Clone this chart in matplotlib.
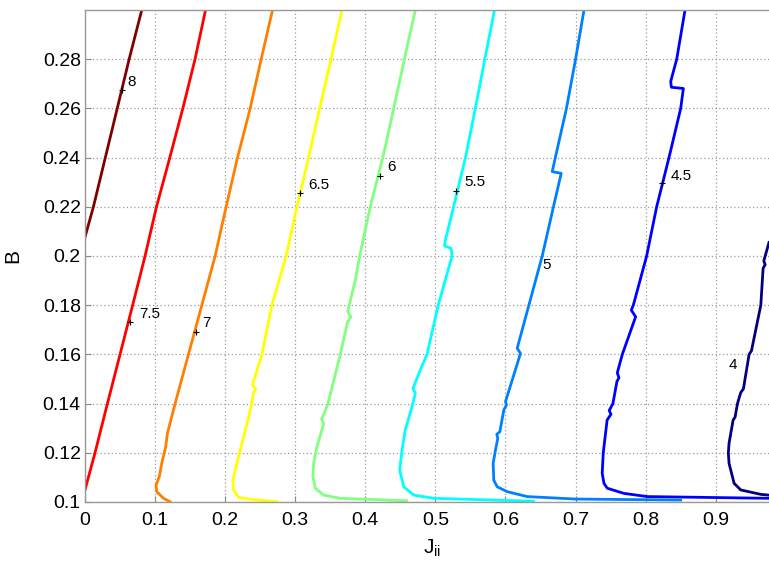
import matplotlib
matplotlib.use("Agg")
import matplotlib.pyplot as plt

plt.rcParams['font.family'] = ['Liberation Sans', 'DejaVu Sans']
plt.rcParams['mathtext.fontset'] = 'custom'
plt.rcParams['mathtext.rm'] = 'Liberation Sans'
plt.rcParams['mathtext.it'] = 'Liberation Sans:italic'

# ---- data: contour levels (traced points, x = J_ii, y = B) ----
levels = [4.0, 4.5, 5.0, 5.5, 6.0, 6.5, 7.0, 7.5, 8.0]

x_40 = [0.976, 0.9643, 0.9357, 0.9262, 0.919, 0.918, 0.919, 0.9248, 0.9276, 0.931,
        0.9357, 0.9395, 0.9476, 0.951, 0.9643, 0.9676, 0.9705, 0.9686, 0.976]
y_40 = [0.1028, 0.1031, 0.1049, 0.1076, 0.1157, 0.12, 0.1239, 0.1333, 0.1345, 0.14,
        0.1445, 0.146, 0.16, 0.1615, 0.18, 0.195, 0.1965, 0.198, 0.2055]

x_45 = [0.976, 0.8024, 0.769, 0.7452, 0.7405, 0.738, 0.7395, 0.745, 0.7505, 0.748,
        0.7533, 0.759, 0.7619, 0.7595, 0.7667, 0.7857, 0.7795, 0.7824, 0.8014, 0.8157,
        0.8333, 0.85, 0.8538, 0.8367, 0.8357, 0.8443, 0.8562]
y_45 = [0.1015, 0.1022, 0.1035, 0.1056, 0.1076, 0.1117, 0.12, 0.1333, 0.1357, 0.1372,
        0.14, 0.149, 0.1505, 0.1525, 0.16, 0.1753, 0.178, 0.18, 0.20, 0.22,
        0.24, 0.26, 0.2681, 0.2686, 0.2709, 0.28, 0.30]

x_50 = [0.85, 0.70, 0.631, 0.6024, 0.5881, 0.5833, 0.5824, 0.5857, 0.589, 0.5876,
        0.592, 0.5976, 0.6014, 0.600, 0.6214, 0.6167, 0.6524, 0.669, 0.6795, 0.6667,
        0.6714, 0.687, 0.700, 0.712]
y_50 = [0.1008, 0.1012, 0.1022, 0.1042, 0.1062, 0.1089, 0.1157, 0.1211, 0.1259, 0.1275,
        0.1286, 0.1374, 0.1394, 0.1408, 0.1604, 0.1625, 0.20, 0.2207, 0.2336, 0.2343,
        0.2404, 0.26, 0.28, 0.30]

x_55 = [0.64, 0.4976, 0.469, 0.4548, 0.449, 0.4524, 0.457, 0.4667, 0.4714, 0.468,
        0.4786, 0.488, 0.504, 0.5238, 0.5224, 0.5129, 0.5143, 0.526, 0.5429, 0.557,
        0.5705, 0.5843]
y_55 = [0.1003, 0.1015, 0.1028, 0.1062, 0.113, 0.1211, 0.1293, 0.1387, 0.1442, 0.1462,
        0.1537, 0.16, 0.18, 0.20, 0.2031, 0.2041, 0.2065, 0.22, 0.24, 0.26,
        0.28, 0.30]

x_60 = [0.459, 0.3643, 0.3405, 0.3286, 0.3252, 0.3262, 0.331, 0.338, 0.3405, 0.3376,
        0.3414, 0.3467, 0.3643, 0.3748, 0.3795, 0.3748, 0.3857, 0.392, 0.407, 0.425,
        0.4405, 0.4557, 0.4714]
y_60 = [0.1005, 0.1015, 0.1028, 0.1056, 0.1103, 0.1157, 0.1225, 0.1293, 0.1318, 0.1339,
        0.136, 0.14, 0.16, 0.1733, 0.1753, 0.1774, 0.1902, 0.20, 0.22, 0.24,
        0.26, 0.28, 0.30]

x_65 = [0.2747, 0.2357, 0.219, 0.2119, 0.211, 0.2167, 0.2205, 0.2295, 0.238, 0.2405,
        0.2438, 0.239, 0.2405, 0.2524, 0.2667, 0.287, 0.3024, 0.319, 0.3348, 0.351,
        0.3667]
y_65 = [0.1001, 0.1011, 0.1019, 0.1049, 0.1089, 0.1157, 0.12, 0.13, 0.14, 0.1445,
        0.1458, 0.1476, 0.149, 0.16, 0.18, 0.20, 0.22, 0.24, 0.26, 0.28,
        0.30]

x_70 = [0.1214, 0.112, 0.1024, 0.1014, 0.106, 0.1095, 0.1152, 0.1176, 0.1286, 0.1476,
        0.1667, 0.1857, 0.2014, 0.2176, 0.2357, 0.2514, 0.2676]
y_70 = [0.1001, 0.1015, 0.1042, 0.1069, 0.1103, 0.1157, 0.1225, 0.1279, 0.14, 0.16,
        0.18, 0.20, 0.22, 0.24, 0.26, 0.28, 0.30]

x_75 = [0.0, 0.0143, 0.032, 0.050, 0.068, 0.0857, 0.102, 0.121, 0.1396, 0.157, 0.172]
y_75 = [0.1049, 0.12, 0.14, 0.16, 0.18, 0.20, 0.22, 0.24, 0.26, 0.28, 0.30]

x_80 = [0.0, 0.012, 0.029, 0.046, 0.063, 0.081]
y_80 = [0.2077, 0.22, 0.24, 0.26, 0.28, 0.30]

# contour label anchors (marker point) and label text positions
label_texts = ['4', '4.5', '5', '5.5', '6', '6.5', '7', '7.5', '8']
label_mark_x = [None, 0.8238, None, 0.530, 0.4205, 0.307, 0.158, 0.0643, 0.0524]
label_mark_y = [None, 0.2296, None, 0.2266, 0.2327, 0.2255, 0.169, 0.1733, 0.2675]
label_text_x = [0.9248, 0.850, 0.6586, 0.557, 0.4367, 0.334, 0.1729, 0.0929, 0.0667]
label_text_y = [0.1557, 0.2325, 0.1963, 0.2302, 0.2363, 0.2289, 0.1727, 0.1763, 0.2709]

xticks = [0, 0.1, 0.2, 0.3, 0.4, 0.5, 0.6, 0.7, 0.8, 0.9]
xtick_labels = ['0', '0.1', '0.2', '0.3', '0.4', '0.5', '0.6', '0.7', '0.8', '0.9']
yticks = [0.10, 0.12, 0.14, 0.16, 0.18, 0.20, 0.22, 0.24, 0.26, 0.28]
ytick_labels = ['0.1', '0.12', '0.14', '0.16', '0.18', '0.2', '0.22', '0.24', '0.26', '0.28']

# ---- styles ----
colors = [(0, 0, 0.5), (0, 0, 1), (0, 0.5, 1), (0, 1, 1), (0.5, 1, 0.5),
          (1, 1, 0), (1, 0.5, 0), (1, 0, 0), (0.5, 0, 0)]

curves_x = [x_40, x_45, x_50, x_55, x_60, x_65, x_70, x_75, x_80]
curves_y = [y_40, y_45, y_50, y_55, y_60, y_65, y_70, y_75, y_80]

fig = plt.figure(figsize=(7.69, 5.63), dpi=100)
ax = fig.add_axes([85 / 769, 61 / 563, 684 / 769, 492 / 563])

ax.set_xlim(0, 0.976)
ax.set_ylim(0.1, 0.3)

ax.grid(True, color='#9a9a9a', linestyle=(0, (1, 2)), linewidth=0.9)
ax.set_axisbelow(True)

for cx, cy, col in zip(curves_x, curves_y, colors):
    ax.plot(cx, cy, color=col, linewidth=2.0, solid_joinstyle='round', clip_on=True)

for t, mx, my, tx, ty in zip(label_texts, label_mark_x, label_mark_y, label_text_x, label_text_y):
    if mx is not None:
        ax.plot([mx], [my], marker='+', color='black', markersize=4, markeredgewidth=0.8)
    ax.text(tx, ty, t, fontsize=11, ha='center', va='center', color='black')

ax.set_xticks(xticks)
ax.set_xticklabels(xtick_labels)
ax.set_yticks(yticks)
ax.set_yticklabels(ytick_labels)
ax.tick_params(axis='both', direction='in', length=4, color='#888888', labelsize=14,
               labelcolor='black')
ax.tick_params(axis='x', pad=7)
ax.tick_params(axis='y', pad=3)

for side in ['left', 'bottom', 'top']:
    ax.spines[side].set_color('#999999')
    ax.spines[side].set_linewidth(1.0)
ax.spines['right'].set_visible(False)

ax.set_xlabel(r'J$_{\rm ii}$', fontsize=15)
ax.xaxis.set_label_coords((432 - 85) / 684, -36 / 492)
ax.set_ylabel('B', fontsize=15)
ax.yaxis.set_label_coords(-63 / 684, 0.5)

fig.savefig('out.png', dpi=100)
